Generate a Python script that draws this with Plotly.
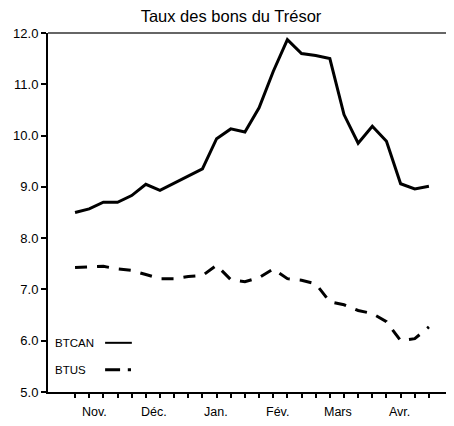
import plotly.graph_objects as go

# Data (weekly observations, early Nov. to late Apr.)
weeks = list(range(26))
btcan = [8.50, 8.57, 8.70, 8.70, 8.83, 9.05, 8.93, 9.07, 9.20, 9.35,
         9.94, 10.13, 10.07, 10.54, 11.25, 11.87, 11.60, 11.56, 11.50, 10.41,
         9.85, 10.18, 9.89, 9.06, 8.96, 9.01]
btus = [7.43, 7.44, 7.45, 7.40, 7.37, 7.29, 7.21, 7.21, 7.25, 7.27,
        7.47, 7.19, 7.15, 7.23, 7.40, 7.21, 7.18, 7.11, 6.76, 6.70,
        6.59, 6.53, 6.37, 6.00, 6.04, 6.27]
month_labels = ["Nov.", "Déc.", "Jan.", "Fév.", "Mars", "Avr."]
month_pos = [1.35, 5.58, 9.96, 14.3, 18.6, 22.9]
y_ticks = [5.0, 6.0, 7.0, 8.0, 9.0, 10.0, 11.0, 12.0]
title = "Taux des bons du Trésor"
series_names = ["BTCAN", "BTUS"]

FONT = "Liberation Sans, Arial, sans-serif"

# the page body has an 8px margin, so the figure is sized to fit inside it
W, H = 446, 418

fig = go.Figure()
fig.add_trace(go.Scatter(x=weeks, y=btcan, mode="lines", name=series_names[0],
                         line=dict(color="black", width=3), showlegend=False))
fig.add_trace(go.Scatter(x=weeks, y=btus, mode="lines", name=series_names[1],
                         line=dict(color="black", width=3, dash="12px,10px"),
                         showlegend=False))

# month labels
for lab, pos in zip(month_labels, month_pos):
    fig.add_annotation(x=pos, y=-0.057, xref="x", yref="paper", text=lab,
                       showarrow=False, font=dict(family=FONT, size=12.5, color="black"),
                       xanchor="center", yanchor="middle")

# legend (text left of sample)
leg_y = [0.137, 0.062]
for name, yy in zip(series_names, leg_y):
    fig.add_annotation(x=0.012, y=yy, xref="paper", yref="paper", text=name,
                       showarrow=False, font=dict(family=FONT, size=11.5, color="black"),
                       xanchor="left", yanchor="middle")
fig.add_shape(type="line", xref="paper", yref="paper", x0=0.141, x1=0.207,
              y0=leg_y[0], y1=leg_y[0], line=dict(color="black", width=2))
fig.add_shape(type="line", xref="paper", yref="paper", x0=0.141, x1=0.178,
              y0=leg_y[1], y1=leg_y[1], line=dict(color="black", width=3))
fig.add_shape(type="line", xref="paper", yref="paper", x0=0.197, x1=0.205,
              y0=leg_y[1], y1=leg_y[1], line=dict(color="black", width=3))

fig.update_layout(
    width=W, height=H,
    margin=dict(l=40, r=1, t=25, b=34, autoexpand=False),
    paper_bgcolor="white", plot_bgcolor="white",
    title=dict(text=title, x=0.5, xanchor="center", y=1 - 2.5 / H, yanchor="top",
               pad=dict(t=0, b=0),
               font=dict(family=FONT, size=16.5, color="black")),
    font=dict(family=FONT, color="black"),
)
fig.update_xaxes(range=[-1.91, 26.7], tickvals=weeks, ticktext=[""] * len(weeks),
                 ticks="outside", ticklen=4, tickwidth=1.5, tickcolor="black",
                 showgrid=False, zeroline=False, showline=True, linecolor="black",
                 linewidth=2, mirror=False, automargin=False)
fig.update_yaxes(range=[5, 12], tickvals=y_ticks,
                 ticktext=[f"{v:.1f}" for v in y_ticks],
                 ticks="outside", ticklen=5, tickwidth=1.5, tickcolor="black",
                 tickfont=dict(family=FONT, size=13, color="black"),
                 showgrid=False, zeroline=False, showline=True, linecolor="black",
                 linewidth=2, automargin=False)
# top border line
fig.add_shape(type="line", xref="paper", yref="paper", x0=0, x1=1, y0=1, y1=1,
              line=dict(color="#333", width=1.5))

fig.write_html("out.html")
